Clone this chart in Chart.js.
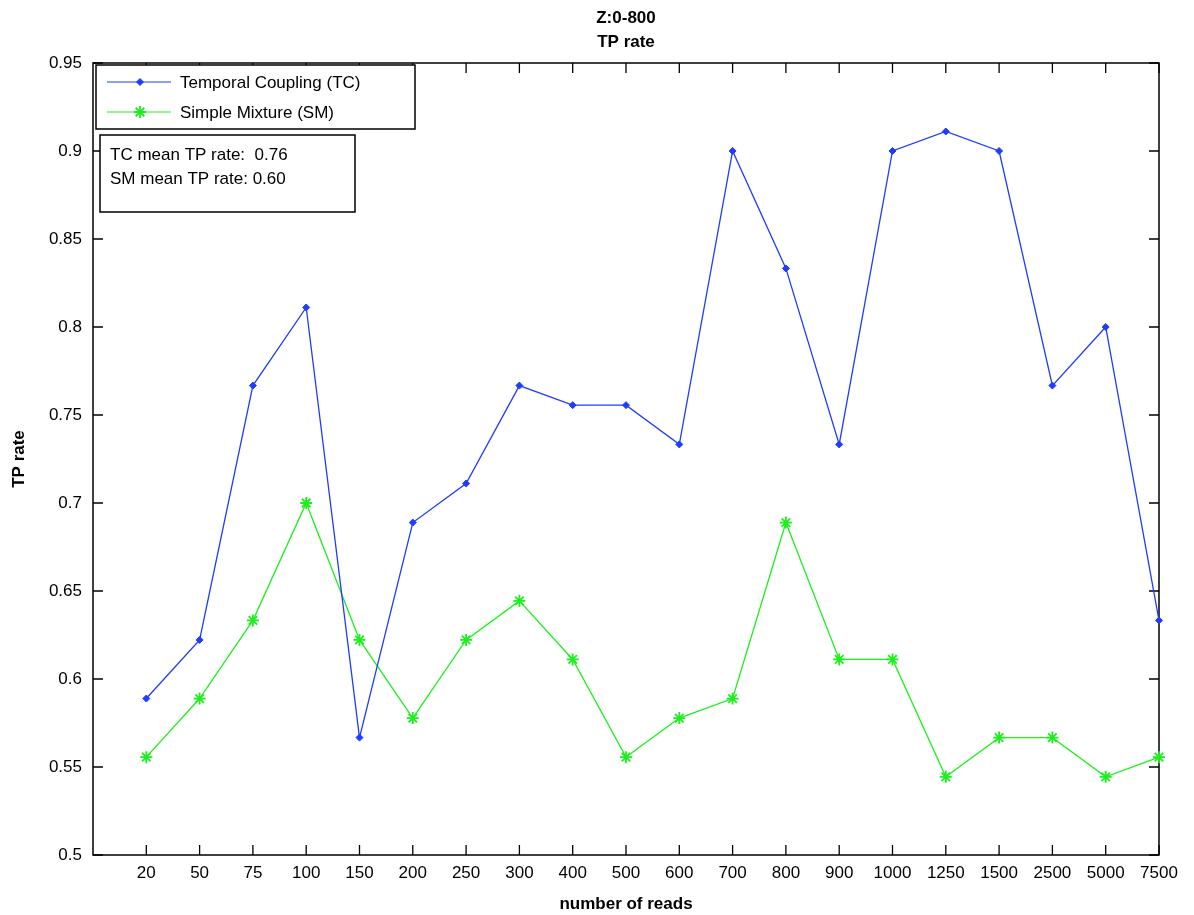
<!DOCTYPE html>
<html lang="en">
<head>
  <meta charset="UTF-8">
  <title>Z:0-800 TP rate</title>
  <script src="https://cdn.jsdelivr.net/npm/chart.js"></script>
  <style>
    html, body { margin: 0; padding: 0; background: #fff; }
    #wrap { position: relative; width: 1194px; height: 915px; }
  </style>
</head>
<body>
  <div id="wrap"><canvas id="tpChart" width="1194" height="915"></canvas></div>

  <script>
    // Données
    const reads = ['20', '50', '75', '100', '150', '200', '250', '300', '400', '500',
                   '600', '700', '800', '900', '1000', '1250', '1500', '2500', '5000', '7500'];
    const tcRate = [0.5889, 0.6222, 0.7667, 0.8111, 0.5667, 0.6889, 0.7111, 0.7667, 0.7556, 0.7556,
                    0.7333, 0.9000, 0.8333, 0.7333, 0.9000, 0.9111, 0.9000, 0.7667, 0.8000, 0.6333];
    const smRate = [0.5556, 0.5889, 0.6333, 0.7000, 0.6222, 0.5778, 0.6222, 0.6444, 0.6111, 0.5556,
                    0.5778, 0.5889, 0.6889, 0.6111, 0.6111, 0.5444, 0.5667, 0.5667, 0.5444, 0.5556];
    const seriesNames = ['Temporal Coupling (TC)', 'Simple Mixture (SM)'];
    const meanText = ['TC mean TP rate:  0.76', 'SM mean TP rate: 0.60'];
    const yTicks = [0.5, 0.55, 0.6, 0.65, 0.7, 0.75, 0.8, 0.85, 0.9, 0.95];

    const FONT = 'Arial, "Liberation Sans", Helvetica, sans-serif';
    const BLUE = '#1f3cff';
    const GREEN = '#1cf01c';

    const toPoints = arr => arr.map((v, i) => ({ x: i + 1, y: v }));

    // Cadre, graduations internes, titres, légende
    const matlabFrame = {
      id: 'matlabFrame',
      beforeDatasetsDraw(chart) {
        const ctx = chart.ctx;
        const a = chart.chartArea;
        const xs = chart.scales.x, ys = chart.scales.y;
        ctx.save();
        ctx.strokeStyle = '#000';
        ctx.lineWidth = 1.5;
        ctx.strokeRect(a.left, a.top, a.right - a.left, a.bottom - a.top);
        ctx.lineWidth = 1.3;
        ctx.beginPath();
        reads.forEach((r, i) => {
          const px = xs.getPixelForValue(i + 1);
          ctx.moveTo(px, a.bottom); ctx.lineTo(px, a.bottom - 10);
          ctx.moveTo(px, a.top); ctx.lineTo(px, a.top + 10);
        });
        yTicks.forEach(t => {
          const py = ys.getPixelForValue(t);
          ctx.moveTo(a.left, py); ctx.lineTo(a.left + 10, py);
          ctx.moveTo(a.right, py); ctx.lineTo(a.right - 10, py);
        });
        ctx.stroke();

        // titres
        ctx.fillStyle = '#000';
        ctx.textAlign = 'center';
        ctx.textBaseline = 'middle';
        ctx.font = 'bold 17px ' + FONT;
        const cx = (a.left + a.right) / 2;
        ctx.fillText('Z:0-800', cx, 18);
        ctx.fillText('TP rate', cx, 42);
        ctx.fillText('number of reads', cx, 904);
        ctx.save();
        ctx.translate(19, (a.top + a.bottom) / 2);
        ctx.rotate(-Math.PI / 2);
        ctx.fillText('TP rate', 0, 0);
        ctx.restore();
        ctx.restore();
      },
      afterDraw(chart) {
        const ctx = chart.ctx;
        ctx.save();
        ctx.textBaseline = 'middle';
        // légende
        ctx.fillStyle = '#fff';
        ctx.strokeStyle = '#000';
        ctx.fillRect(96, 65, 319, 64);
        ctx.lineWidth = 1.5;
        ctx.strokeRect(96, 65, 319, 64);
        ctx.font = '17px ' + FONT;
        ctx.textAlign = 'left';
        chart.data.datasets.forEach((ds, i) => {
          const ly = 82 + i * 30;
          ctx.strokeStyle = ds.borderColor;
          ctx.fillStyle = ds.backgroundColor;
          ctx.lineWidth = 1.2;
          ctx.beginPath();
          ctx.moveTo(107, ly); ctx.lineTo(171, ly);
          ctx.stroke();
          ctx.lineWidth = ds.pointBorderWidth;
          Chart.helpers.drawPoint(ctx, {
            pointStyle: ds.pointStyle, radius: ds.pointRadius, rotation: 0,
            borderWidth: ds.pointBorderWidth
          }, 140, ly);
          ctx.fillStyle = '#000';
          ctx.fillText(ds.label, 180, ly + 1);
        });

        // encadré des moyennes
        ctx.fillStyle = '#fff';
        ctx.fillRect(100, 135, 255, 77);
        ctx.strokeStyle = '#000';
        ctx.lineWidth = 1.5;
        ctx.strokeRect(100, 135, 255, 77);
        ctx.fillStyle = '#000';
        meanText.forEach((t, i) => ctx.fillText(t, 110, 155 + i * 24));
        ctx.restore();
      }
    };

    const ctx = document.getElementById('tpChart').getContext('2d');
    new Chart(ctx, {
      type: 'line',
      data: {
        datasets: [{
          label: seriesNames[0],
          data: toPoints(tcRate),
          borderColor: BLUE,
          backgroundColor: BLUE,
          borderWidth: 1.3,
          pointStyle: 'rectRot',
          pointRadius: 3.5,
          pointBorderWidth: 1,
          tension: 0,
          clip: false
        }, {
          label: seriesNames[1],
          data: toPoints(smRate),
          borderColor: GREEN,
          backgroundColor: GREEN,
          borderWidth: 1.3,
          pointStyle: 'star',
          pointRadius: 6,
          pointBorderWidth: 1.8,
          tension: 0,
          clip: false
        }]
      },
      options: {
        responsive: false,
        animation: false,
        devicePixelRatio: 1,
        layout: { padding: { left: 0, top: 63, right: 35, bottom: 0 } },
        plugins: { legend: { display: false }, title: { display: false }, tooltip: { enabled: false } },
        scales: {
          x: {
            type: 'linear',
            min: 0,
            max: 20,
            afterBuildTicks: s => { s.ticks = reads.map((r, i) => ({ value: i + 1 })); },
            afterFit: s => { s.height = 60; },
            grid: { display: false, drawTicks: false },
            border: { display: false },
            ticks: {
              autoSkip: false,
              maxRotation: 0,
              padding: 8,
              color: '#000',
              font: { family: FONT, size: 17 },
              callback: v => reads[v - 1] || ''
            }
          },
          y: {
            min: 0.5,
            max: 0.95,
            afterBuildTicks: s => { s.ticks = yTicks.map(v => ({ value: v })); },
            afterFit: s => { s.width = 93; },
            grid: { display: false, drawTicks: false },
            border: { display: false },
            ticks: {
              padding: 11,
              color: '#000',
              font: { family: FONT, size: 17 },
              callback: v => String(+v.toFixed(2))
            }
          }
        }
      },
      plugins: [matlabFrame]
    });
  </script>
</body>
</html>
